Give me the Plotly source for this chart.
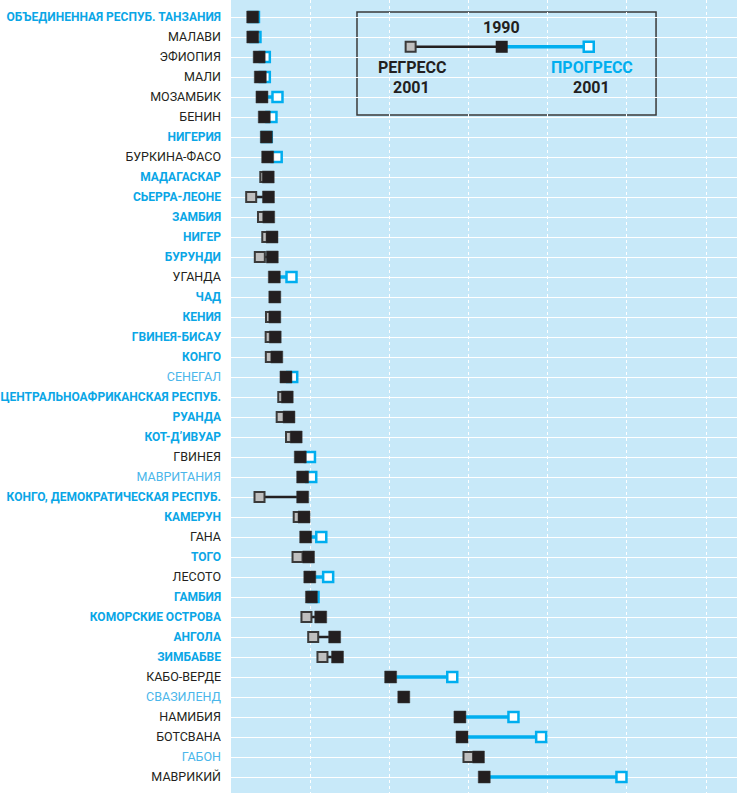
import plotly.graph_objects as go

# ---------------- data ----------------
countries = [
    "ОБЪЕДИНЕННАЯ РЕСПУБ. ТАНЗАНИЯ", "МАЛАВИ", "ЭФИОПИЯ", "МАЛИ", "МОЗАМБИК",
    "БЕНИН", "НИГЕРИЯ", "БУРКИНА-ФАСО", "МАДАГАСКАР", "СЬЕРРА-ЛЕОНЕ",
    "ЗАМБИЯ", "НИГЕР", "БУРУНДИ", "УГАНДА", "ЧАД", "КЕНИЯ", "ГВИНЕЯ-БИСАУ",
    "КОНГО", "СЕНЕГАЛ", "ЦЕНТРАЛЬНОАФРИКАНСКАЯ РЕСПУБ.", "РУАНДА",
    "КОТ-Д’ИВУАР", "ГВИНЕЯ", "МАВРИТАНИЯ", "КОНГО, ДЕМОКРАТИЧЕСКАЯ РЕСПУБ.",
    "КАМЕРУН", "ГАНА", "ТОГО", "ЛЕСОТО", "ГАМБИЯ", "КОМОРСКИЕ ОСТРОВА",
    "АНГОЛА", "ЗИМБАБВЕ", "КАБО-ВЕРДЕ", "СВАЗИЛЕНД", "НАМИБИЯ", "БОТСВАНА",
    "ГАБОН", "МАВРИКИЙ",
]
# label style: "b" = cyan bold, "k" = black regular, "c" = light cyan regular
label_style = [
    "b", "k", "k", "k", "k", "k", "b", "k", "b", "b",
    "b", "b", "b", "k", "b", "b", "b", "b", "c", "b",
    "b", "b", "k", "c", "b", "b", "k", "b", "k", "b",
    "b", "b", "b", "k", "c", "k", "k", "c", "k",
]
val_1990 = [
    274, 275, 356, 370, 391, 420, 446, 463, 470, 473,
    476, 518, 521, 547, 553, 553, 558, 578, 694, 710,
    732, 823, 875, 905, 905, 922, 943, 979, 995, 1016,
    1133, 1309, 1345, 2016, 2182, 2891, 2917, 3125, 3198,
]
val_2001 = [
    290, 309, 427, 427, 587, 511, 452, 577, 433, 255,
    404, 458, 364, 764, None, 505, 501, 503, 773, 660,
    640, 758, 997, 1013, 360, 855, 1140, 840, 1227, 1042,
    953, 1038, 1155, 2794, None, 3567, 3917, 2999, 4931,
]
grid_vals = [1000, 2000, 3000, 4000, 5000, 6000]
x_range = [0, 6390]

# ---------------- styles ----------------
BG = "#c8e9f9"
CYAN = "#00aeef"
BLACK = "#231f20"
GRAY_FILL = "#bfbfbf"
GRAY_LINE = "#3a3a3a"
FONT = "Roboto, Liberation Sans, sans-serif"
label_colors = {"b": "#0aa6e6", "k": "#231f20", "c": "#4ab6ea"}

ticktext = []
for name, st in zip(countries, label_style):
    col = label_colors[st]
    if st == "b":
        txt = f"<b><span style='color:{col};font-size:12px'>{name}</span></b>"
    else:
        txt = f"<span style='color:{col}'>{name}</span>"
    ticktext.append(txt)

ypos = list(range(len(countries)))

# connector segments
reg_x, reg_y, pro_x, pro_y = [], [], [], []
reg_px, reg_py, pro_px, pro_py = [], [], [], []
for i, (a, b) in enumerate(zip(val_1990, val_2001)):
    if b is None:
        continue
    if b < a:
        reg_x += [a, b, None]; reg_y += [i, i, None]
        reg_px.append(b); reg_py.append(i)
    else:
        pro_x += [a, b, None]; pro_y += [i, i, None]
        pro_px.append(b); pro_py.append(i)

fig = go.Figure()
fig.add_trace(go.Scatter(x=reg_x, y=reg_y, mode="lines",
                         line=dict(color=BLACK, width=2.5), hoverinfo="skip"))
fig.add_trace(go.Scatter(x=pro_x, y=pro_y, mode="lines",
                         line=dict(color=CYAN, width=3.5), hoverinfo="skip"))
fig.add_trace(go.Scatter(x=reg_px, y=reg_py, mode="markers",
                         marker=dict(symbol="square", size=10, color=GRAY_FILL,
                                     line=dict(color=GRAY_LINE, width=2))))
fig.add_trace(go.Scatter(x=pro_px, y=pro_py, mode="markers",
                         marker=dict(symbol="square", size=10, color="white",
                                     line=dict(color=CYAN, width=2.5))))
fig.add_trace(go.Scatter(x=val_1990, y=ypos, mode="markers",
                         marker=dict(symbol="square", size=12, color=BLACK,
                                     line=dict(color="#3a3a3a", width=0.5))))

# ---------------- legend box (overlay axes in fractions) ----------------
leg_gray = (0.355, 0.941)
leg_black = (0.535, 0.941)
leg_cyan = (0.707, 0.941)
fig.add_trace(go.Scatter(x=[leg_gray[0], leg_black[0]], y=[leg_gray[1], leg_black[1]],
                         mode="lines", line=dict(color=BLACK, width=2.5),
                         xaxis="x2", yaxis="y2", hoverinfo="skip"))
fig.add_trace(go.Scatter(x=[leg_black[0], leg_cyan[0]], y=[leg_black[1], leg_cyan[1]],
                         mode="lines", line=dict(color=CYAN, width=3.5),
                         xaxis="x2", yaxis="y2", hoverinfo="skip"))
fig.add_trace(go.Scatter(x=[leg_gray[0]], y=[leg_gray[1]], mode="markers",
                         marker=dict(symbol="square", size=10, color=GRAY_FILL,
                                     line=dict(color=GRAY_LINE, width=2)),
                         xaxis="x2", yaxis="y2"))
fig.add_trace(go.Scatter(x=[leg_cyan[0]], y=[leg_cyan[1]], mode="markers",
                         marker=dict(symbol="square", size=10, color="white",
                                     line=dict(color=CYAN, width=2.5)),
                         xaxis="x2", yaxis="y2"))
fig.add_trace(go.Scatter(x=[leg_black[0]], y=[leg_black[1]], mode="markers",
                         marker=dict(symbol="square", size=12, color=BLACK),
                         xaxis="x2", yaxis="y2"))

fig.add_shape(type="rect", xref="paper", yref="paper",
              x0=0.249, x1=0.840, y0=0.855, y1=0.985,
              line=dict(color="#3a3a3a", width=1.5), fillcolor=BG, layer="below")

anns = [
    (0.535, 0.965, "<b>1990</b>", BLACK),
    (0.357, 0.915, "<b>РЕГРЕСС</b>", BLACK),
    (0.357, 0.890, "<b>2001</b>", BLACK),
    (0.713, 0.915, "<b>ПРОГРЕСС</b>", CYAN),
    (0.713, 0.890, "<b>2001</b>", BLACK),
]
for x, y, t, c in anns:
    fig.add_annotation(x=x, y=y, xref="paper", yref="paper", text=t,
                       showarrow=False, font=dict(family=FONT, size=16, color=c),
                       xanchor="center", yanchor="middle")

fig.update_layout(
    width=737, height=793,
    margin=dict(l=231, r=0, t=0, b=0),
    paper_bgcolor="white", plot_bgcolor=BG,
    showlegend=False,
    xaxis=dict(range=x_range, tickvals=grid_vals, showticklabels=False,
               showgrid=True, gridcolor="white", gridwidth=1, griddash="dot",
               zeroline=False, showline=False, fixedrange=True),
    yaxis=dict(range=[38.8, -0.85], tickvals=ypos, ticktext=ticktext,
               showgrid=True, gridcolor="white", gridwidth=1.3,
               zeroline=False, showline=False, ticks="", ticklabelstandoff=9,
               automargin=False, fixedrange=True,
               tickfont=dict(family=FONT, size=12.5, color=BLACK)),
    xaxis2=dict(range=[0, 1], overlaying="x", visible=False, fixedrange=True),
    yaxis2=dict(range=[0, 1], overlaying="y", visible=False, fixedrange=True),
)

fig.write_html(
    "out.html",
    config={"displayModeBar": False},
    post_script="document.body.style.margin='0';document.body.style.overflow='hidden';",
)
